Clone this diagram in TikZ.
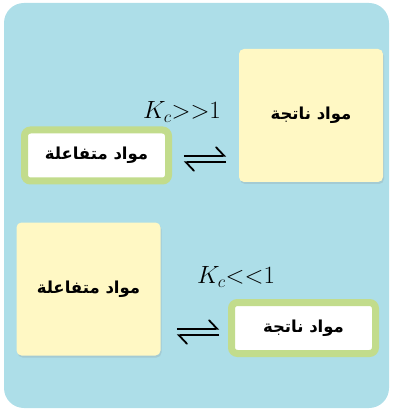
\documentclass[tikz,border=0pt]{standalone}
\usepackage{amsmath}
\usepackage{xcolor}
\usepackage{fontspec}
\usepackage{tikz}
\usetikzlibrary{shadows,arrows.meta}
\TeXXeTstate=1
\newfontfamily\arabicfont[Script=Arabic]{DejaVu Sans}
\definecolor{bgblue}{HTML}{ADDEE8}
\definecolor{boxyellow}{HTML}{FFF8C4}
\definecolor{boxgreen}{HTML}{C2DC8C}
\begin{document}
\begin{tikzpicture}[x=1pt,y=-1pt,
    bigbox/.style={fill=boxyellow,rounded corners=5pt,minimum width=144pt,minimum height=133pt,
      inner sep=0pt,drop shadow={opacity=0.2,shadow xshift=1pt,shadow yshift=-2pt}},
    smallbox/.style={fill=white,draw=boxgreen,line width=7pt,rounded corners=6pt,
      minimum width=144pt,minimum height=51pt,inner sep=0pt,
      drop shadow={opacity=0.2,shadow xshift=1pt,shadow yshift=-2pt}},
    label/.style={font=\arabicfont\bfseries\fontsize{16.5}{20}\selectfont},
    kval/.style={font=\fontsize{25}{28}\selectfont,inner sep=0pt},
    eqsign/.style={minimum width=42pt,minimum height=6pt,inner sep=0pt},
    harp/.style={line width=1.8pt,-{Straight Barb[left,length=8pt,width=17pt,line cap=round]}}]
      \useasboundingbox (0,0) rectangle (392,411);
      \fill[bgblue,rounded corners=20pt] (4,3) rectangle (389,408);
      % K_c >> 1 : products dominate
      \node[bigbox] (p1) at (311,115.5) {};
      \node[label] at (p1.center) {\beginR مواد ناتجة\endR};
      \node[smallbox] (r1) at (96.5,155.5) {};
      \node[label] at (r1.center) {\beginR مواد متفاعلة\endR};
      \node[eqsign] (e1) at (205,159) {};
      \draw[harp] (e1.north west) -- (e1.north east);
      \draw[harp] (e1.south east) -- (e1.south west);
      \node[kval] (k1) at (182,112) {$K_c{>}{>}1$};
      % K_c << 1 : reactants dominate
      \node[bigbox] (r2) at (88.5,289) {};
      \node[label] at (r2.center) {\beginR مواد متفاعلة\endR};
      \node[smallbox] (p2) at (303.5,328) {};
      \node[label] at (p2.center) {\beginR مواد ناتجة\endR};
      \node[eqsign] (e2) at (198,332) {};
      \draw[harp] (e2.north west) -- (e2.north east);
      \draw[harp] (e2.south east) -- (e2.south west);
      \node[kval] (k2) at (236,277) {$K_c{<}{<}1$};
    \end{tikzpicture}
\end{document}
